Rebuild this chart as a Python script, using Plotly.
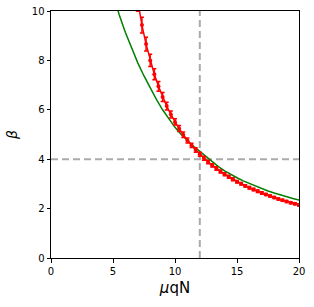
import plotly.graph_objects as go

# Green curve
green_x = [5.0, 5.5, 6.0, 6.5, 7.0, 7.5, 8.0, 8.5, 9.0, 9.5, 10.0, 10.5, 11.0, 11.5, 12.0,
           12.5, 13.0, 13.5, 14.0, 14.5, 15.0, 15.5, 16.0, 16.5, 17.0, 17.5, 18.0, 18.5,
           19.0, 19.5, 20.0, 20.5]
green_y = [10.70, 9.85, 9.13, 8.49, 7.90, 7.37, 6.89, 6.42, 6.00, 5.62, 5.29, 5.00, 4.75,
           4.52, 4.32, 4.10, 3.89, 3.70, 3.53, 3.38, 3.25, 3.12, 3.01, 2.90, 2.80, 2.71,
           2.63, 2.55, 2.48, 2.41, 2.35, 2.29]

# Red data points with error bars
red_x = [6.667, 7.0, 7.333, 7.667, 8.0, 8.333, 8.667, 9.0, 9.333, 9.667, 10.0, 10.333,
         10.667, 11.0, 11.333, 11.667, 12.0, 12.333, 12.667, 13.0, 13.333, 13.667, 14.0,
         14.333, 14.667, 15.0, 15.333, 15.667, 16.0, 16.333, 16.667, 17.0, 17.333, 17.667,
         18.0, 18.333, 18.667, 19.0, 19.333, 19.667, 20.0]
red_y = [11.40, 10.35, 9.43, 8.66, 8.00, 7.44, 6.95, 6.52, 6.15, 5.81, 5.51, 5.24, 4.99,
         4.76, 4.56, 4.37, 4.20, 4.04, 3.89, 3.75, 3.62, 3.50, 3.39, 3.29, 3.19, 3.09,
         3.01, 2.92, 2.84, 2.77, 2.70, 2.63, 2.57, 2.51, 2.45, 2.39, 2.34, 2.29, 2.24,
         2.20, 2.15]
red_err = [0.40, 0.36, 0.32, 0.28, 0.25, 0.22, 0.20, 0.18, 0.16, 0.14, 0.13, 0.12, 0.11,
           0.10, 0.09, 0.09, 0.08, 0.08, 0.07, 0.07, 0.07, 0.06, 0.06, 0.06, 0.06, 0.05,
           0.05, 0.05, 0.05, 0.05, 0.05, 0.05, 0.04, 0.04, 0.04, 0.04, 0.04, 0.04, 0.04,
           0.04, 0.04]

ref_x = 12
ref_y = 4

x_ticks = [0, 5, 10, 15, 20]
y_ticks = [0, 2, 4, 6, 8, 10]

fig = go.Figure()
fig.add_trace(go.Scatter(x=green_x, y=green_y, mode="lines",
                         line=dict(color="green", width=1.5), showlegend=False))
fig.add_trace(go.Scatter(x=red_x, y=red_y, mode="lines+markers",
                         line=dict(color="red", width=1.5),
                         marker=dict(color="red", size=4),
                         error_y=dict(type="data", array=red_err, color="red",
                                      thickness=1.5, width=2),
                         showlegend=False))

fig.add_shape(type="line", xref="x", yref="paper", x0=ref_x, x1=ref_x, y0=0, y1=1,
              line=dict(color="#aaaaaa", width=2, dash="7px,4px"), layer="below")
fig.add_shape(type="line", xref="paper", yref="y", x0=0, x1=1, y0=ref_y, y1=ref_y,
              line=dict(color="#aaaaaa", width=2, dash="7px,4px"), layer="below")

axis_common = dict(showline=True, linecolor="black", linewidth=1, mirror=True,
                   ticks="outside", ticklen=3.5, tickwidth=0.8, tickcolor="black",
                   showgrid=False, zeroline=False, automargin=False,
                   ticklabeloverflow="allow",
                   tickfont=dict(family="DejaVu Sans", size=10, color="black"))

fig.update_xaxes(range=[0, 20], tickvals=x_ticks,
                 title=dict(text="<i>μ</i>qN", font=dict(family="DejaVu Sans", size=15, color="black"),
                            standoff=6),
                 **axis_common)
fig.update_yaxes(range=[0, 10], tickvals=y_ticks,
                 title=dict(text="<i>β</i>", font=dict(family="DejaVu Sans", size=14, color="black"),
                            standoff=10),
                 **axis_common)

fig.update_layout(width=314, height=307,
                  margin=dict(l=51, r=15, t=11, b=49),
                  plot_bgcolor="white", paper_bgcolor="white")

fig.write_html("out.html", config={"displayModeBar": False},
               post_script="document.body.style.margin='0px';document.body.style.overflow='hidden';")
